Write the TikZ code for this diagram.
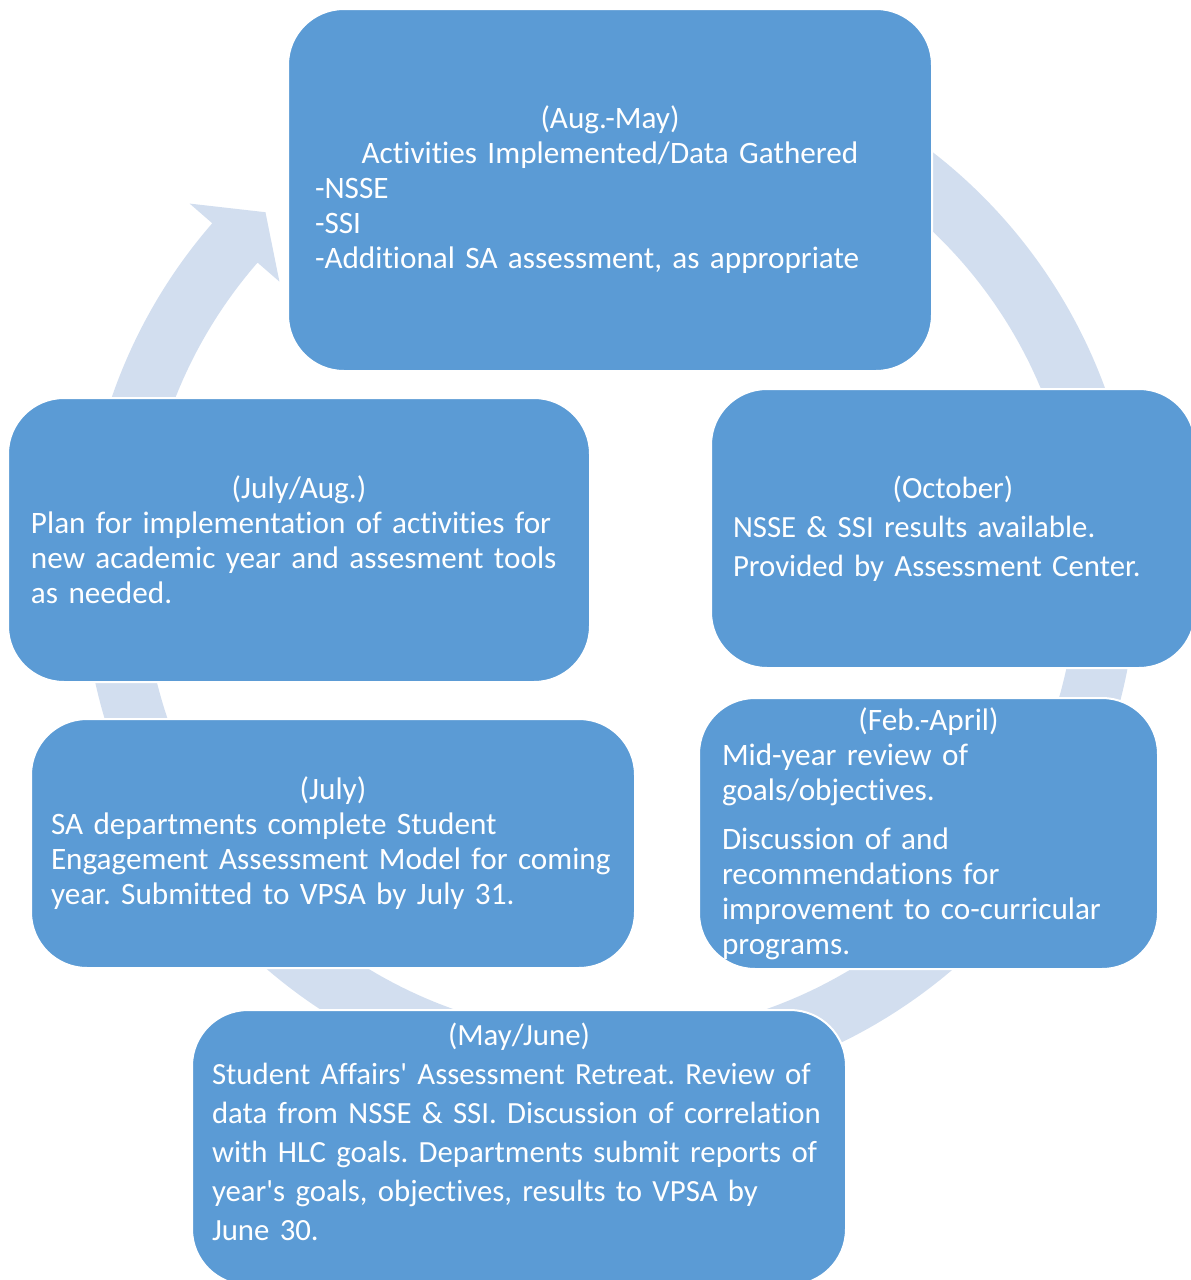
\documentclass[tikz,border=0pt]{standalone}
\usepackage{fontspec}
\usepackage{xcolor}
\newfontfamily\boxfont{Carlito}[RawFeature={-liga;-clig;-calt;-dlig}]
\definecolor{boxblue}{HTML}{5B9BD5}
\definecolor{ringblue}{HTML}{D2DEEF}
\frenchspacing

\begin{document}
\begin{tikzpicture}[
        x=0.5pt, y=-0.5pt,
        stage/.style={rectangle, rounded corners=28pt, fill=boxblue, draw=white, line width=1pt, text=white, align=left, inner sep=0pt, font=\boxfont\fontsize{15.6pt}{17.5pt}\selectfont},
        loose/.style={font=\boxfont\fontsize{15.4pt}{19.5pt}\selectfont},
        ring/.style={fill=ringblue}
    ]
        \useasboundingbox (0,0) rectangle (1190,1280);

        % Cycle arrow behind the boxes
        \begin{scope}[shift={(610,569)}]
            \fill[ring] (-75:527) arc[start angle=-75, end angle=221, radius=527]
                -- (221:557) -- (226:496) -- (221:438) -- (221:467)
                arc[start angle=221, end angle=-75, radius=467] -- cycle;
        \end{scope}

        % Stages
        \node[stage, minimum width=322pt, minimum height=181pt, text width=295pt] (act) at (610,190)
            {{\centering (Aug.-May)\\ Activities Implemented/Data Gathered\par}-NSSE\\-SSI\\-Additional SA assessment, as appropriate};
        \node[stage, loose, minimum width=242pt, minimum height=139.5pt, text width=220pt] (res) at (953,528.5)
            {{\centering (October)\par}NSSE \& SSI results available.\\Provided by Assessment Center.};
        \node[stage, minimum width=229.5pt, minimum height=135.5pt, text width=206.5pt] (rev) at (928.5,833.5)
            {{\centering (Feb.-April)\par}Mid-year review of\\goals/objectives.\\[7pt]Discussion of and\\recommendations for\\improvement to co-curricular\\programs.};
        \node[stage, loose, minimum width=327pt, minimum height=137.5pt, text width=307pt] (ret) at (519,1147.5)
            {{\centering (May/June)\par}Student Affairs' Assessment Retreat. Review of\\data from NSSE \& SSI. Discussion of correlation\\with HLC goals. Departments submit reports of\\year's goals, objectives, results to VPSA by\\June 30.\par\vspace{16pt}};
        \node[stage, minimum width=302pt, minimum height=124.5pt, text width=282pt] (sam) at (333,843.5)
            {{\centering (July)\par}SA departments complete Student\\Engagement Assessment Model for coming\\year. Submitted to VPSA by July 31.};
        \node[stage, minimum width=291pt, minimum height=142pt, text width=268pt] (plan) at (299,540)
            {{\centering (July/Aug.)\par}Plan for implementation of activities for\\new academic year and assesment tools\\as needed.};
\end{tikzpicture}
\end{document}
